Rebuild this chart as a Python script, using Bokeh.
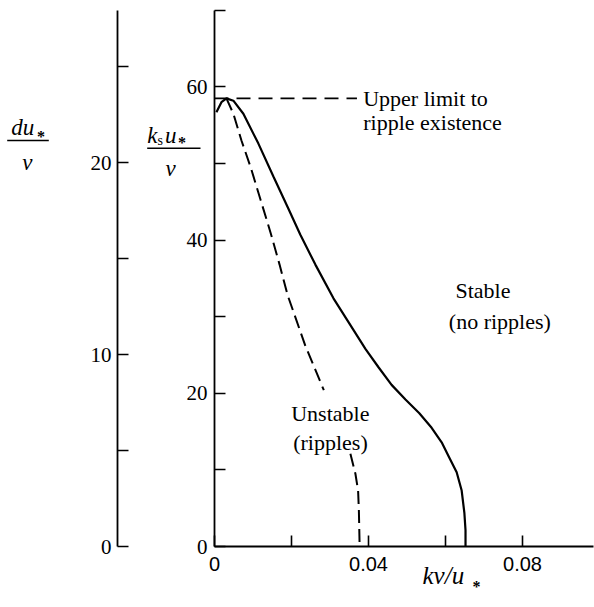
from bokeh.plotting import figure
from bokeh.models import Range1d, FixedTicker, Label, Arrow, LinearAxis
from bokeh.embed import file_html
from bokeh.resources import INLINE

# ---------------- data ----------------
# neutral-stability curve (solid)
solid_x = [0.0005, 0.0018, 0.0031, 0.0049, 0.0075, 0.0114, 0.0153, 0.0192,
           0.0223, 0.0262, 0.0309, 0.0353, 0.0392, 0.0426, 0.0460, 0.0496,
           0.0532, 0.0564, 0.0590, 0.0610, 0.0629, 0.0642, 0.0649, 0.0652,
           0.0652]
solid_y = [56.7, 58.0, 58.5, 58.2, 56.5, 52.6, 48.3, 44.1,
           40.7, 36.8, 32.4, 28.9, 25.8, 23.4, 21.1, 19.2,
           17.4, 15.5, 13.6, 11.6, 9.7, 7.3, 4.4, 2.1,
           0.0]
# dashed curve, interrupted by the "Unstable" label
dash_up_x = [0.0031, 0.0049, 0.0070, 0.0094, 0.0120, 0.0146, 0.0169, 0.0190,
             0.0236, 0.0284]
dash_up_y = [58.5, 56.5, 53.0, 49.5, 45.2, 40.9, 36.8, 32.8,
             26.2, 20.4]
dash_lo_x = [0.0353, 0.0366, 0.0373, 0.0375, 0.0377]
dash_lo_y = [12.1, 9.5, 7.3, 4.7, 0.0]
# upper limit to ripple existence
limit_x = [0.0, 0.037]
limit_y = [58.5, 58.5]

x_major = [0.0, 0.04, 0.08]
x_minor = [0.02, 0.06]
x_labels = {0.0: "0", 0.04: "0.04", 0.08: "0.08"}
y_major = [0, 20, 40, 60]
y_minor = [10, 30, 50, 70]
d_major = [0, 10, 20]
d_minor = [5, 15, 25]

SERIF = "Liberation Serif"
SANS = "Liberation Sans"

# ---------------- geometry: page pixel -> data ----------------
W, H = 594, 607
PX0, PY0 = 214, 546          # where x = 0 and y = 0 sit on the page
XS, YS, DS = 3850.0, 7.66, 19.2


def X(px):
    return (px - PX0) / XS


def Y(py):
    return (PY0 - py) / YS


def D(py):
    return (PY0 - py) / DS


p = figure(width=W, height=H, output_backend="svg", toolbar_location=None,
           x_range=Range1d(X(0), X(W)), y_range=Range1d(Y(H), Y(0)),
           x_axis_location=None, y_axis_location=None,
           min_border=0, min_border_left=0, min_border_right=0,
           min_border_top=0, min_border_bottom=0)
p.extra_y_ranges = {"d": Range1d(D(H), D(0))}
p.outline_line_color = None
p.grid.visible = False
p.background_fill_color = "white"
p.border_fill_color = "white"


def style_axis(axis, size, font):
    axis.axis_line_width = 1.8
    axis.axis_line_color = "black"
    axis.major_tick_in = 11
    axis.major_tick_out = 0
    axis.minor_tick_in = 11
    axis.minor_tick_out = 0
    axis.major_tick_line_width = 1.6
    axis.minor_tick_line_width = 1.6
    axis.major_tick_line_color = "black"
    axis.minor_tick_line_color = "black"
    axis.major_label_text_font = font
    axis.major_label_text_font_size = size
    axis.major_label_text_color = "black"


xa = LinearAxis(fixed_location=0, bounds=(0, X(W - 1)),
                ticker=FixedTicker(ticks=x_major, minor_ticks=x_minor))
xa.major_label_overrides = x_labels
xa.major_label_standoff = 10
style_axis(xa, "20px", SANS)
p.add_layout(xa, "below")

ya = LinearAxis(fixed_location=0, bounds=(0, 70),
                ticker=FixedTicker(ticks=y_major, minor_ticks=y_minor))
ya.major_label_standoff = 7
style_axis(ya, "21px", SERIF)
p.add_layout(ya, "left")

da = LinearAxis(y_range_name="d", fixed_location=X(117), bounds=(0, D(10)),
                ticker=FixedTicker(ticks=d_major, minor_ticks=d_minor))
da.major_label_standoff = 6
style_axis(da, "21px", SERIF)
p.add_layout(da, "left")

p.line(solid_x, solid_y, line_color="black", line_width=2.2)
p.line(dash_up_x, dash_up_y, line_color="black", line_width=2.0, line_dash="13 6")
p.line(dash_lo_x, dash_lo_y, line_color="black", line_width=2.0, line_dash="13 6")
p.line(limit_x, limit_y, line_color="black", line_width=1.8, line_dash="14 8")


def txt(px, py, s, size="22px", style="normal"):
    p.add_layout(Label(x=X(px), y=Y(py), text=s, text_font=SERIF, text_font_style=style,
                       text_font_size=size, text_baseline="alphabetic",
                       text_align="left", text_color="black"))


def bar(px0, px1, py):
    p.add_layout(Arrow(x_start=X(px0), y_start=Y(py), x_end=X(px1), y_end=Y(py),
                       start=None, end=None, line_width=1.5, line_color="black"))


txt(362.7, 98.3, "Upper limit to")
txt(362.7, 121.7, "ripple existence")
txt(455, 290, "Stable")
txt(448.3, 320.7, "(no ripples)")
txt(290.7, 413.3, "Unstable")
txt(292.7, 441.7, "(ripples)")

# x axis label  k nu / u*
txt(422, 574.5, "kν/u", size="25px", style="italic")
txt(472, 586, "*", size="16px", style="bold")

# main y axis label  k_s u* / nu
txt(146.7, 135, "k", size="23px", style="italic")
txt(157, 139.5, "s", size="14px")
txt(164.5, 135, "u", size="23px", style="italic")
txt(177.5, 142, "*", size="16px", style="bold")
bar(146.7, 200, 147.7)
txt(165, 168.3, "ν", size="23px", style="italic")

# outer y axis label  d u* / nu
txt(10.7, 126.7, "du", size="23px", style="italic")
txt(36.5, 136, "*", size="16px", style="bold")
bar(6.7, 48.3, 140)
txt(21.7, 161.7, "ν", size="23px", style="italic")

open("out.html", "w").write(file_html(p, INLINE))
